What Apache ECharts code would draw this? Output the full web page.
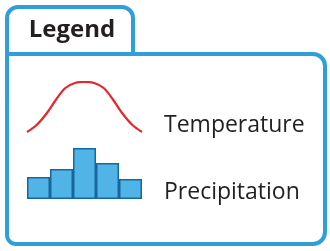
<!DOCTYPE html>
<html>
<head>
<meta charset="utf-8">
<script src="https://cdn.jsdelivr.net/npm/echarts@6/dist/echarts.min.js"></script>
<style>
  html, body { margin: 0; padding: 0; background: #fff; }
  #chart { width: 330px; height: 251px; }
</style>
</head>
<body>
<div id="chart"></div>
<script>
// bell curve, height above the baseline
const curveX = [0, 1, 2, 3, 4, 5, 6, 7, 8, 9, 10, 11, 12];
const curveY = [0, 7, 18, 32, 44, 49, 50, 49, 44, 32, 18, 7, 0];
// histogram bars
const barCats = ['a', 'b', 'c', 'd', 'e'];
const barVals = [22, 30, 51, 36, 20];
const labels = ['Temperature', 'Precipitation'];
const title = 'Legend';

const blue = '#2f9fd9';
const chart = echarts.init(document.getElementById('chart'));
const option = {
  animation: false,
  grid: [
    { left: 27, top: 82, width: 115, height: 50 },
    { left: 27, top: 148, width: 115, height: 51 }
  ],
  xAxis: [
    { type: 'value', gridIndex: 0, min: 0, max: 12, show: false },
    { type: 'category', gridIndex: 1, data: barCats, show: false }
  ],
  yAxis: [
    { type: 'value', gridIndex: 0, min: 0, max: 50, show: false },
    { type: 'value', gridIndex: 1, min: 0, max: 51, show: false }
  ],
  series: [
    {
      type: 'line',
      xAxisIndex: 0,
      yAxisIndex: 0,
      data: curveX.map((x, i) => [x, curveY[i]]),
      smooth: 0.35,
      symbol: 'none',
      lineStyle: { color: '#e8252b', width: 2.2 }
    },
    {
      type: 'bar',
      xAxisIndex: 1,
      yAxisIndex: 1,
      data: barVals,
      barCategoryGap: 0,
      itemStyle: { color: '#50b4e6', borderColor: '#17679c', borderWidth: 1.5 }
    }
  ],
  graphic: [
    {
      type: 'rect',
      shape: { x: 7, y: 54, width: 318, height: 190, r: [0, 12, 12, 9] },
      style: { fill: 'none', stroke: blue, lineWidth: 4 }
    },
    {
      type: 'rect',
      shape: { x: 7, y: 7, width: 126, height: 47, r: [11, 11, 0, 0] },
      style: { fill: 'none', stroke: blue, lineWidth: 4 }
    },
    {
      type: 'text',
      x: 72, y: 30,
      style: {
        text: title, fill: '#231f20', font: 'bold 24px "Open Sans"',
        textAlign: 'center', textVerticalAlign: 'middle'
      }
    },
    {
      type: 'text',
      x: 164, y: 125,
      style: {
        text: labels[0], fill: '#231f20', font: '23px "Open Sans"',
        textAlign: 'left', textVerticalAlign: 'middle'
      }
    },
    {
      type: 'text',
      x: 164, y: 192,
      style: {
        text: labels[1], fill: '#231f20', font: '23px "Open Sans"',
        textAlign: 'left', textVerticalAlign: 'middle'
      }
    }
  ]
};
chart.setOption(option);
</script>
</body>
</html>
